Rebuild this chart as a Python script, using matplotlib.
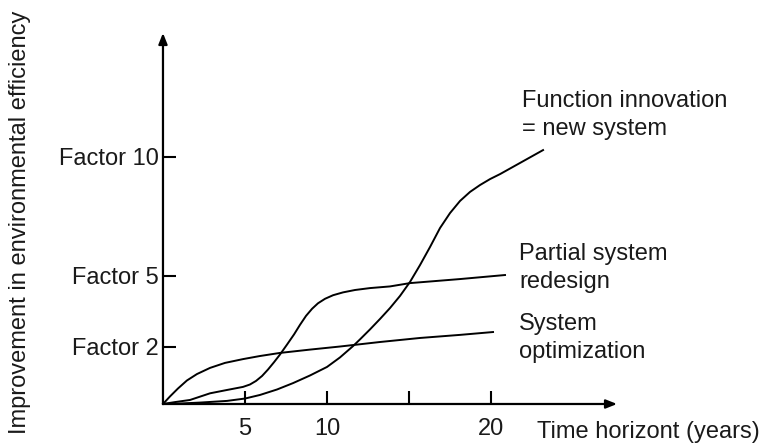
import matplotlib.pyplot as plt

plt.rcParams['font.family'] = ['Liberation Sans', 'DejaVu Sans']

# curves: x = years, y = factor of improvement
opt_years = [0, 0.43, 0.91, 1.46, 2.07, 2.87, 3.78, 4.88, 5.91, 7.13, 8.96, 10.79,
             13.23, 15.67, 18.11, 20.12]
opt_factor = [-0.4, -0.08, 0.25, 0.59, 0.86, 1.12, 1.33, 1.49, 1.62, 1.75, 1.89, 2.02,
              2.21, 2.38, 2.51, 2.63]

partial_years = [0, 0.73, 1.65, 2.87, 3.9, 4.88, 5.3, 5.67, 6.04, 6.4, 6.77, 7.13, 7.56,
                 7.99, 8.35, 8.72, 9.09, 9.45, 9.88, 10.37, 10.98, 11.71, 12.62, 13.84,
                 15.06, 18.11, 20.85]
partial_factor = [-0.4, -0.32, -0.23, 0.05, 0.19, 0.32, 0.42, 0.57, 0.78, 1.05, 1.36, 1.68,
                  2.1, 2.53, 2.93, 3.31, 3.61, 3.84, 4.03, 4.18, 4.3, 4.4, 4.48, 4.55,
                  4.69, 4.86, 5.03]

func_years = [0, 1.04, 2.26, 3.9, 5.0, 5.91, 6.95, 7.93, 8.96, 10.0, 10.79, 11.59, 12.01,
              12.62, 13.23, 13.84, 14.45, 15.06, 15.67, 16.28, 16.89, 17.5, 18.11, 18.72,
              19.33, 19.94, 20.55, 21.77, 23.17]
func_factor = [-0.4, -0.38, -0.34, -0.27, -0.17, -0.02, 0.21, 0.48, 0.8, 1.16, 1.56, 2.04,
               2.32, 2.74, 3.18, 3.64, 4.15, 4.74, 5.45, 6.21, 7.01, 7.64, 8.15, 8.53,
               8.82, 9.07, 9.28, 9.75, 10.29]

x_ticks = [5, 10, 15, 20]
x_tick_labels = ['5', '10', '', '20']
y_ticks = [2, 5, 10]
y_tick_labels = ['Factor 2', 'Factor 5', 'Factor 10']

fig = plt.figure(figsize=(7.63, 4.44), dpi=100)
ax = fig.add_axes([0.2136, 0.0901, 0.5951, 0.8356])
ax.set_xlim(0, 27.68)
ax.set_ylim(-0.4, 15.22)

for s in ax.spines.values():
    s.set_visible(False)

# axes with arrow heads
arrow = dict(arrowstyle='-|>,head_length=0.5,head_width=0.2', lw=1.6, color='black',
             mutation_scale=13, shrinkA=0, shrinkB=0)
ax.annotate('', xy=(1, 0), xytext=(0, 0), xycoords='axes fraction', arrowprops=arrow)
ax.annotate('', xy=(0, 1), xytext=(0, 0), xycoords='axes fraction', arrowprops=arrow)

for xs, ys in [(opt_years, opt_factor), (partial_years, partial_factor),
               (func_years, func_factor)]:
    ax.plot(xs, ys, color='black', lw=1.4, clip_on=False, solid_joinstyle='round')

ax.set_xticks(x_ticks)
ax.set_xticklabels(x_tick_labels)
ax.set_yticks(y_ticks)
ax.set_yticklabels(y_tick_labels)
ax.tick_params(direction='in', length=9.5, width=1.5, color='black',
               labelsize=17, labelcolor='#1a1a1a')
ax.tick_params(axis='x', pad=10)
ax.tick_params(axis='y', pad=3)

# labels next to the curve ends (y = baseline of the last line)
txt = dict(fontsize=17, color='#1a1a1a', va='baseline', ha='left', linespacing=1.34)
ax.text(21.9, 10.93, 'Function innovation\n= new system', **txt)
ax.text(21.7, 4.48, 'Partial system\nredesign', **txt)
ax.text(21.7, 1.54, 'System\noptimization', **txt)

fig.text(537 / 763, 6 / 444, 'Time horizont (years)', fontsize=17, color='#1a1a1a',
         ha='left', va='baseline')
fig.text(20 / 763, 0.5, 'Improvement in environmental efficiency', fontsize=17,
         color='#1a1a1a', rotation=90, ha='center', va='center')

fig.savefig('out.png', dpi=100)
